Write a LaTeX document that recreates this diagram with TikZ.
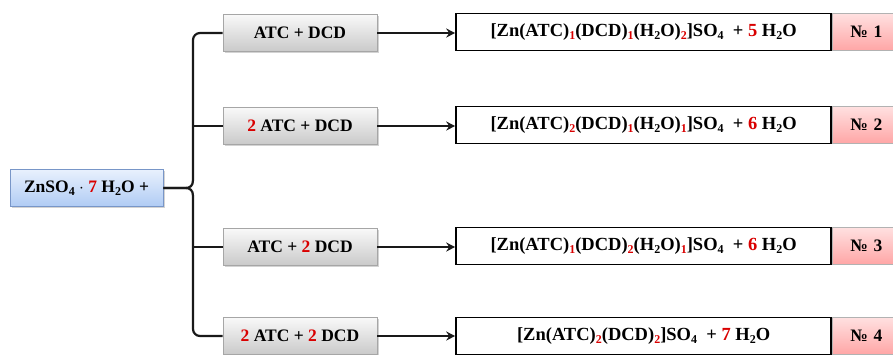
\documentclass[tikz,border=0pt]{standalone}
\usepackage{fontspec}
\setmainfont{Liberation Serif}
\usetikzlibrary{arrows.meta,shadows}

% red stoichiometric numbers and lowered indices
\newcommand{\rn}[1]{\textcolor{red!85!black}{#1}}
\newcommand{\lowidx}[1]{\raisebox{-0.32ex}{\fontsize{12}{12}\selectfont #1}}
\newcommand{\rlow}[1]{\lowidx{\rn{#1}}}

\definecolor{startline}{RGB}{120,150,200}
\definecolor{starttop}{RGB}{232,240,253}
\definecolor{startbot}{RGB}{176,204,244}

\begin{document}
\begin{tikzpicture}[x=1pt,y=-1pt,
  txt/.style={font=\fontsize{17.5}{20}\selectfont\bfseries},
  startbox/.style={txt, draw=startline, line width=0.8pt,
    top color=starttop, bottom color=startbot,
    minimum width=153pt, minimum height=37pt, inner sep=0pt,
    drop shadow={shadow xshift=1.5pt, shadow yshift=-1.5pt, opacity=0.35}},
  mixbox/.style={txt, draw=gray!70, line width=0.8pt,
    top color=gray!5, bottom color=gray!42,
    minimum width=154pt, minimum height=37pt, inner sep=0pt,
    drop shadow={shadow xshift=1.5pt, shadow yshift=-1.5pt, opacity=0.35}},
  prodbox/.style={txt, font=\fontsize{18.5}{20}\selectfont\bfseries,
    draw=black, line width=1.8pt, fill=white,
    minimum width=375pt, minimum height=37pt, inner sep=0pt},
  numbox/.style={txt, draw=gray!60, line width=0.6pt,
    top color=red!12, bottom color=red!35,
    minimum width=80pt, minimum height=37pt, inner sep=0pt,
    text width=60pt, align=left},
  conn/.style={line width=2.2pt, draw=black!90},
  arr/.style={conn, -{Stealth[length=9pt,width=9pt,inset=3pt]}}
]
\useasboundingbox (0,0) rectangle (893,354);
\clip (0,0) rectangle (893,354);

% starting salt
\node[startbox] (L) at (86.5,188) {ZnSO\lowidx{4} $\cdot$ \rn{7} H\lowidx{2}O +};

% ligand combinations
\node[mixbox] (m1) at (300,33)  {ATC + DCD};
\node[mixbox] (m2) at (300,126) {\rn{2} ATC + DCD};
\node[mixbox] (m3) at (300,247) {ATC + \rn{2} DCD};
\node[mixbox] (m4) at (300,336) {\rn{2} ATC + \rn{2} DCD};

% complex numbers (tags on the right)
\node[numbox, anchor=west] (n1) at (832,32)  {\hspace*{8pt}№ 1};
\node[numbox, anchor=west] (n2) at (832,125) {\hspace*{8pt}№ 2};
\node[numbox, anchor=west] (n3) at (832,246) {\hspace*{8pt}№ 3};
\node[numbox, anchor=west] (n4) at (832,336) {\hspace*{8pt}№ 4};

% products
\node[prodbox, anchor=east] (p1) at (n1.west)
  {[Zn(ATC)\rlow{1}(DCD)\rlow{1}(H\lowidx{2}O)\rlow{2}]SO\lowidx{4}\ \ + \rn{5} H\lowidx{2}O};
\node[prodbox, anchor=east] (p2) at (n2.west)
  {[Zn(ATC)\rlow{2}(DCD)\rlow{1}(H\lowidx{2}O)\rlow{1}]SO\lowidx{4}\ \ + \rn{6} H\lowidx{2}O};
\node[prodbox, anchor=east] (p3) at (n3.west)
  {[Zn(ATC)\rlow{1}(DCD)\rlow{2}(H\lowidx{2}O)\rlow{1}]SO\lowidx{4}\ \ + \rn{6} H\lowidx{2}O};
\node[prodbox, anchor=east] (p4) at (n4.west)
  {[Zn(ATC)\rlow{2}(DCD)\rlow{2}]SO\lowidx{4}\ \ + \rn{7} H\lowidx{2}O};

% branching brace: spine, its two ends and a sharp cusp
\coordinate (btop) at (193,33);
\coordinate (bbot) at (193,336);
\coordinate (upper) at (193,180);
\coordinate (lower) at (193,196);
\coordinate (uc) at (193,186);
\coordinate (lc) at (193,190);
\coordinate (tip) at (185,188);
\draw[conn] (m1.west) [rounded corners=7pt] -- (btop) [sharp corners] -- (upper)
  .. controls (uc) and (190,188) .. (tip) -- (L.east);
\draw[conn] (L.east) -- (tip) .. controls (190,188) and (lc) .. (lower)
  [rounded corners=7pt] -- (bbot) -- (m4.west);
\draw[conn] (m2.west -| btop) -- (m2.west);
\draw[conn] (m3.west -| btop) -- (m3.west);

% reactions
\draw[arr] (m1.east) -- (m1.east -| p1.west);
\draw[arr] (m2.east) -- (m2.east -| p2.west);
\draw[arr] (m3.east) -- (m3.east -| p3.west);
\draw[arr] (m4.east) -- (m4.east -| p4.west);
\end{tikzpicture}
\end{document}
